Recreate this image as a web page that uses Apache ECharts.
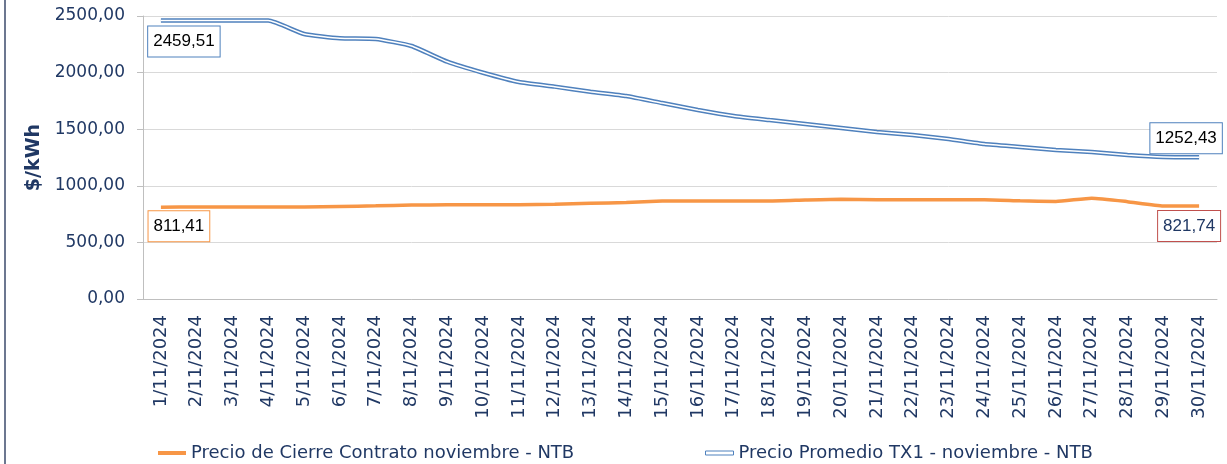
<!DOCTYPE html>
<html>
<head>
<meta charset="utf-8">
<style>
  html, body { margin: 0; padding: 0; background: #fff; }
  #main { width: 1227px; height: 464px; }
</style>
<script src="https://cdn.jsdelivr.net/npm/echarts@6/dist/echarts.min.js"></script>
</head>
<body>
<div id="main"></div>
<script>
// fechas del mes
var dias = ['1/11/2024', '2/11/2024', '3/11/2024', '4/11/2024', '5/11/2024', '6/11/2024', '7/11/2024', '8/11/2024', '9/11/2024', '10/11/2024',
  '11/11/2024', '12/11/2024', '13/11/2024', '14/11/2024', '15/11/2024', '16/11/2024', '17/11/2024', '18/11/2024', '19/11/2024', '20/11/2024',
  '21/11/2024', '22/11/2024', '23/11/2024', '24/11/2024', '25/11/2024', '26/11/2024', '27/11/2024', '28/11/2024', '29/11/2024', '30/11/2024']

var cierre = [811.41, 812, 812, 812, 813, 818, 823, 830, 832, 832, 833, 838, 845, 852, 865, 866, 866, 866, 875, 882,
  876, 876, 876, 877, 868, 862, 890, 860, 822, 821.74]

var promedio = [2459.51, 2459.51, 2459.51, 2459.51, 2341, 2303, 2297, 2235, 2096, 1999, 1917, 1876, 1831, 1793, 1731, 1670, 1617, 1581, 1546, 1511,
  1475, 1449, 1413, 1369, 1343, 1316, 1298, 1272, 1254, 1252.43]

var yTicks = [0, 500, 1000, 1500, 2000, 2500]

var nombreCierre = 'Precio de Cierre Contrato noviembre - NTB'
var nombrePromedio = 'Precio Promedio TX1 - noviembre - NTB'

var navy = '#203864'
var naranja = '#f79646'
var azul = '#4f81bd'

function fmt(v) {
  return v.toFixed(2).replace('.', ',')
}

// etiqueta en el primer y ultimo punto
function conEtiquetas(arr, primero, ultimo) {
  return arr.map(function(v, i) {
    var item = { value: v }
    if (i === 0) item.label = primero
    else if (i === arr.length - 1) item.label = ultimo
    return item
  })
}

function caja(borde, color, offset) {
  return {
    show: true,
    position: 'inside',
    offset: offset,
    formatter: function(p) { return fmt(p.value) },
    fontFamily: 'Liberation Sans',
    fontSize: 17,
    color: color,
    backgroundColor: '#fff',
    borderColor: borde,
    borderWidth: 1,
    padding: [7, 5, 6, 5]
  }
}

var myChart = echarts.init(document.getElementById('main'))
myChart.setOption({
  animation: false,
  grid: { left: 143, right: 10, top: 16, bottom: 165 },
  legend: [{
    left: 158,
    bottom: 2,
    padding: 0,
    itemWidth: 28,
    itemHeight: 4,
    textStyle: { color: navy, fontFamily: 'DejaVu Sans', fontSize: 18 },
    data: [{ name: nombreCierre, icon: 'rect', itemStyle: { color: naranja, opacity: 1 } }]
  }, {
    left: 705,
    bottom: 2,
    padding: 0,
    itemWidth: 28,
    itemHeight: 4,
    textStyle: { color: navy, fontFamily: 'DejaVu Sans', fontSize: 18 },
    data: [{ name: nombrePromedio, icon: 'rect', itemStyle: { color: '#fff', borderColor: azul, borderWidth: 1, opacity: 1 } }]
  }],
  graphic: [{
    type: 'line',
    shape: { x1: 5, y1: 0, x2: 5, y2: 464 },
    style: { stroke: '#3b4a6b', lineWidth: 1.5 }
  }],
  xAxis: {
    type: 'category',
    data: dias,
    boundaryGap: true,
    axisLine: { lineStyle: { color: '#bfbfbf' } },
    axisTick: { show: false },
    axisLabel: {
      rotate: 90,
      interval: 0,
      margin: 16,
      color: navy,
      fontFamily: 'DejaVu Sans',
      fontSize: 18
    }
  },
  yAxis: {
    type: 'value',
    min: yTicks[0],
    max: yTicks[yTicks.length - 1],
    interval: 500,
    name: '$/kWh',
    nameLocation: 'middle',
    nameGap: 86,
    nameTextStyle: { color: navy, fontFamily: 'DejaVu Sans', fontSize: 19, fontWeight: 'bold' },
    axisLine: { show: true, lineStyle: { color: '#bfbfbf' } },
    axisTick: { show: true, length: 6, lineStyle: { color: '#bfbfbf' } },
    splitLine: { lineStyle: { color: '#d9d9d9' } },
    axisLabel: {
      margin: 18,
      color: navy,
      fontFamily: 'DejaVu Sans',
      fontSize: 17,
      formatter: fmt
    }
  },
  series: [{
    name: nombreCierre,
    type: 'line',
    smooth: 0.15,
    symbol: 'circle',
    symbolSize: 1,
    itemStyle: { color: 'rgba(0,0,0,0)' },
    lineStyle: { color: naranja, width: 3.5 },
    data: conEtiquetas(cierre, caja(naranja, '#000', [18, 19]), caja('#c0504d', navy, [-10, 20]))
  }, {
    name: nombrePromedio,
    type: 'line',
    smooth: 0.15,
    symbol: 'circle',
    symbolSize: 1,
    itemStyle: { color: 'rgba(0,0,0,0)' },
    lineStyle: { color: azul, width: 4.5 },
    data: conEtiquetas(promedio, caja(azul, '#000', [23, 21]), caja(azul, '#000', [-13, -19]))
  }, {
    // linea blanca interior (doble linea)
    name: 'interior',
    type: 'line',
    smooth: 0.15,
    showSymbol: false,
    silent: true,
    lineStyle: { color: '#fff', width: 1.5 },
    data: promedio
  }]
})
</script>
</body>
</html>
